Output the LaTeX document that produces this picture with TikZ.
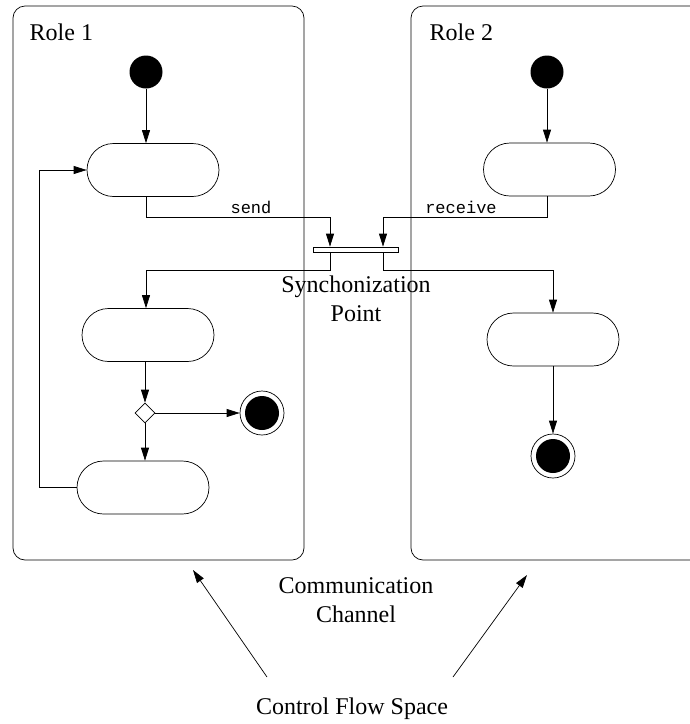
\documentclass[tikz,border=0pt]{standalone}
\usepackage{fontspec}
\setmainfont{Liberation Serif}
\setmonofont{Liberation Mono}
\usetikzlibrary{arrows.meta,shapes.geometric}

\begin{document}
\begin{tikzpicture}[x=1pt,y=-1pt,
    font=\fontsize{24}{29}\selectfont,
    lane/.style={draw,rounded corners=12pt,minimum width=291pt,minimum height=554pt,inner sep=0pt},
    action/.style={draw,rounded corners=26.5pt,minimum width=132pt,minimum height=53pt,inner sep=0pt},
    initst/.style={circle,fill=black,minimum size=33pt,inner sep=0pt},
    finalst/.style={circle,draw,minimum size=44pt,inner sep=0pt,
      path picture={\fill (path picture bounding box.center) circle (17pt);}},
    decision/.style={diamond,draw,fill=white,minimum size=20pt,inner sep=0pt},
    syncbar/.style={draw,fill=white,minimum width=85pt,minimum height=5pt,inner sep=0pt},
    msg/.style={font=\fontsize{17}{20}\selectfont\ttfamily,anchor=base},
    flow/.style={-{Triangle[length=13pt,width=8pt]}},
    every path/.style={line width=0.7pt}]
      \useasboundingbox (0,0) rectangle (690,724);

      %%%%%%%%%%%%%%%%%%%%%%%%%%%%%%%%%%%%%%%%%%%%%%%%%%%%%%%%%%%%%%%%%%%%%%%%%%%
      %%%%  Lanes
      \node[lane] (lane1) at (158.5,283) {};
      \node[lane] (lane2) at (556.5,283) {};
      \node[anchor=base west] (role1) at (26,40) {Role 1};
      \node[anchor=base west] (role2) at (426,40) {Role 2};

      %%%%%%%%%%%%%%%%%%%%%%%%%%%%%%%%%%%%%%%%%%%%%%%%%%%%%%%%%%%%%%%%%%%%%%%%%%%
      %%%%  Role 1
      \node[initst] (init1) at (146,72) {};
      \node[action] (act11) at (153,170) {};
      \node[action] (act12) at (148,335) {};
      \node[decision] (dec1) at (145,413) {};
      \node[finalst] (fin1) at (262,413) {};
      \node[action] (act13) at (143,487.5) {};

      %%%%%%%%%%%%%%%%%%%%%%%%%%%%%%%%%%%%%%%%%%%%%%%%%%%%%%%%%%%%%%%%%%%%%%%%%%%
      %%%%  Role 2
      \node[initst] (init2) at (547,72) {};
      \node[action] (act21) at (549.5,169.5) {};
      \node[action] (act22) at (553,339.5) {};
      \node[finalst] (fin2) at (553,456) {};

      %%%%%%%%%%%%%%%%%%%%%%%%%%%%%%%%%%%%%%%%%%%%%%%%%%%%%%%%%%%%%%%%%%%%%%%%%%%
      %%%%  Synchronization
      \node[syncbar] (bar) at (355.5,249.5) {};
      \coordinate (barl) at (330,249.5);
      \coordinate (barr) at (383,249.5);
      \node[align=center,anchor=base] (synclbl) at (356,321) {Synchonization\\Point};

      \draw[flow] (init1) -- (init1 |- act11.north);
      \draw[flow] (init1 |- act11.south) -- ++(0,20) -| (barl |- bar.north);
      \node[msg] (sendlbl) at (251,213) {send};
      \draw[flow] (barl |- bar.south) -- ++(0,18) -| (init1 |- act12.north);
      \draw[flow] (dec1 |- act12.south) -- (dec1.north);
      \draw[flow] (dec1.east) -- (fin1.west);
      \draw[flow] (dec1.south) -- (dec1 |- act13.north);
      \draw[flow] (act13.west) -- ++(-37,0) |- (act11.west);

      \draw[flow] (init2) -- (init2 |- act21.north);
      \draw[flow] (init2 |- act21.south) -- ++(0,21) -| (barr |- bar.north);
      \node[msg] (recvlbl) at (461,213) {receive};
      \draw[flow] (barr |- bar.south) -- ++(0,18) -| (act22.north);
      \draw[flow] (act22.south) -- (fin2.north);

      %%%%%%%%%%%%%%%%%%%%%%%%%%%%%%%%%%%%%%%%%%%%%%%%%%%%%%%%%%%%%%%%%%%%%%%%%%%
      %%%%  Bottom
      \node[align=center,anchor=base] (chanlbl) at (356,622) {Communication\\Channel};
      \node[anchor=base] (cfslbl) at (352,714) {Control Flow Space};
      \coordinate (cfs1) at (267,677);
      \coordinate (cfs2) at (453,677);
      \coordinate (tip1) at (193,570);
      \coordinate (tip2) at (527,575);
      \draw[flow] (cfs1) -- (tip1);
      \draw[flow] (cfs2) -- (tip2);
    \end{tikzpicture}
\end{document}
